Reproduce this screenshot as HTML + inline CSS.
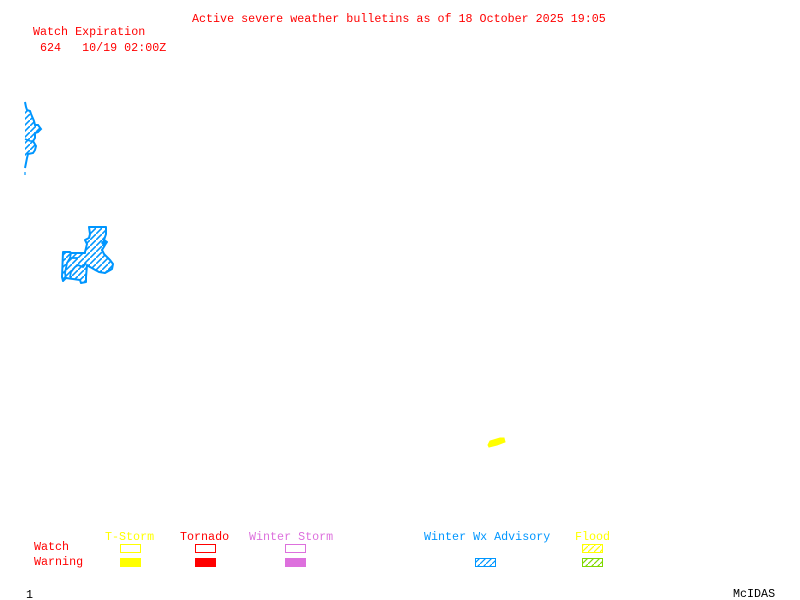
<!DOCTYPE html>
<html>
<head>
<meta charset="utf-8">
<style>
html,body{margin:0;padding:0;background:#fff;width:800px;height:600px;overflow:hidden}
svg{display:block}
text{font-family:"Liberation Mono",monospace;font-size:11.69px;white-space:pre}
</style>
</head>
<body>
<svg width="800" height="600" viewBox="0 0 800 600" xmlns="http://www.w3.org/2000/svg">
<defs>
<pattern id="hb" width="6" height="6" patternUnits="userSpaceOnUse">
<path d="M-1 7L7 -1" stroke="#0096ff" stroke-width="1.2" fill="none"/>
</pattern>
<pattern id="hm" width="6" height="6" patternUnits="userSpaceOnUse">
<path d="M-1 7L7 -1" stroke="#0096ff" stroke-width="1.6" fill="none"/>
</pattern>
<pattern id="hy" width="6" height="6" patternUnits="userSpaceOnUse">
<path d="M-1 7L7 -1" stroke="#ffff00" stroke-width="1.2" fill="none"/>
</pattern>
<pattern id="hg" width="6" height="6" patternUnits="userSpaceOnUse">
<path d="M-1 7L7 -1" stroke="#7fd900" stroke-width="1.2" fill="none"/>
</pattern>
</defs>

<text x="192" y="22" fill="#f00">Active severe weather bulletins as of 18 October 2025 19:05</text>
<text x="33" y="35" fill="#f00">Watch Expiration</text>
<text x="40" y="51" fill="#f00">624   10/19 02:00Z</text>

<path d="M25 110L30 111L31 114L34 121L35 125L38 125L41 129L38 132L35 133L35 138L33 141L36 146L35 150L33 153L28 154L27 158L25 158Z" fill="url(#hm)"/>
<path d="M25 102L26 107L27 110L30 111L31 114L34 121L35 125L38 125L41 129L38 132L35 133L35 138L33 141L36 146L35 150L33 153L28 154L27 158L26 163L25 168" fill="none" stroke="#0096ff" stroke-width="2"/>
<path d="M25 139L30 141L33 141" fill="none" stroke="#0096ff" stroke-width="1.6"/>
<path d="M25 172L25 175" fill="none" stroke="#0096ff" stroke-width="1.2"/>

<path d="M89 227L106 227L106 234L104 240L107 242L105 245L102 250L104 254L110 260L113 264L112 269L105 273L99 272L90 267L87 265L86 277L86 282L81 283L80 280L66 278L63 281L62 277L63 252L70 252L71 253L85 253L85 252L87 244L85 240L89 238L90 234Z" fill="url(#hm)" stroke="#0096ff" stroke-width="2" stroke-linejoin="round"/>
<path d="M71 253L70 258L67 263L65 273L66 278M71 258L78 258M86 263L83 267L78 265L75 267L71 272L70 277" fill="none" stroke="#0096ff" stroke-width="1.8"/>
<path d="M103 240L107 242L104 246L101 243Z" fill="#0096ff"/>

<path d="M488 445L490 441L500 438L504 438L505 442L497 445L489 447Z" fill="#ffff00" stroke="#ffff00" stroke-width="1"/>

<text x="105" y="540" fill="#ffff00">T-Storm</text>
<text x="180" y="540" fill="#f00">Tornado</text>
<text x="249" y="540" fill="#dd70dd">Winter Storm</text>
<text x="424" y="540" fill="#0096ff">Winter Wx Advisory</text>
<text x="575" y="540" fill="#ffff00">Flood</text>
<text x="34" y="550" fill="#f00">Watch</text>
<text x="34" y="565" fill="#f00">Warning</text>

<g shape-rendering="crispEdges" stroke-width="1">
<rect x="120.5" y="544.5" width="20" height="8" fill="none" stroke="#ffff00"/>
<rect x="195.5" y="544.5" width="20" height="8" fill="none" stroke="#f00"/>
<rect x="285.5" y="544.5" width="20" height="8" fill="none" stroke="#dd70dd"/>
<rect x="120" y="558" width="21" height="9" fill="#ffff00"/>
<rect x="195" y="558" width="21" height="9" fill="#f00"/>
<rect x="285" y="558" width="21" height="9" fill="#dd70dd"/>
</g>
<rect x="582.5" y="544.5" width="20" height="8" fill="url(#hy)" stroke="#ffff00"/>
<rect x="475.5" y="558.5" width="20" height="8" fill="url(#hb)" stroke="#0096ff"/>
<rect x="582.5" y="558.5" width="20" height="8" fill="url(#hg)" stroke="#7fd900"/>

<text x="26" y="598" fill="#000">1</text>
<text x="733" y="597" fill="#000">McIDAS</text>
</svg>
</body>
</html>
